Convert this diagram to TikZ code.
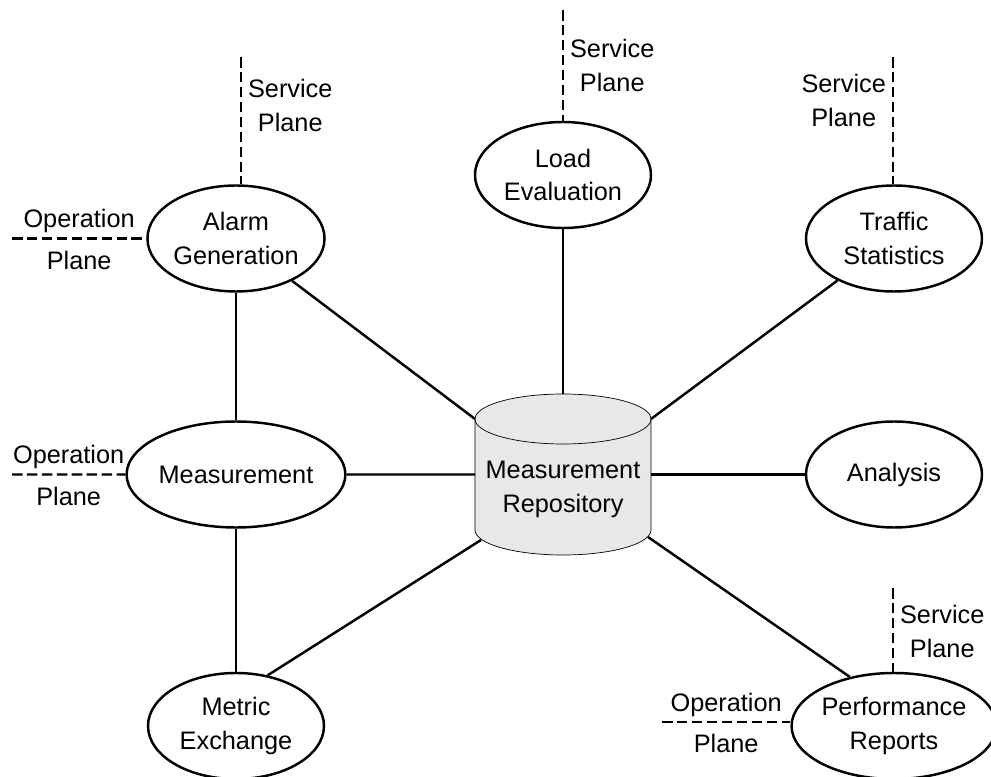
\documentclass[tikz,border=0pt]{standalone}
\usepackage{fontspec}
\setmainfont{Liberation Sans}
\usepackage{tikz}
\usetikzlibrary{shapes.geometric}
\usetikzlibrary{positioning}
\usetikzlibrary{backgrounds}
\tikzset{
    proc/.style={
           ellipse,
           draw=black,
           minimum width=3.52cm,
           minimum height=2.12cm,
           inner sep=0pt,
           align=center,
           },
    store/.style={
           rectangle,
           minimum width=3.52cm,
           minimum height=3.22cm,
           inner sep=0pt, outer sep=0pt,
           },
    plane/.style={
           dash pattern=on 6pt off 2.5pt,
           },
}
\definecolor{repofill}{HTML}{E8E8E8}

\begin{document}
\begin{tikzpicture}[line width=1.4pt, font=\fontsize{14.4}{19.3}\selectfont]
 \useasboundingbox (0,0) rectangle (19.82,15.52);

 % Operation plane side (left column)
 \node[proc] (AG) at (4.72,10.75) {Alarm\\Generation};

 \node[proc,
 below of=AG,
 node distance=4.72cm] (ME)
 {Measurement};

 \node[proc,
 below of=ME,
 node distance=5.03cm] (MX)
 {Metric\\Exchange};

 % STORE Measurement Repository
 % text sits a bit lower because of the lid
 \node[store] (MR) at (11.26,6.03)
 {\raisebox{-8pt}[\height][\depth]{%
 \begin{tabular}{c}
  Measurement\\
  Repository
 \end{tabular}}};

 \node[proc,
 above of=MR,
 node distance=5.99cm] (LE)
 {Load\\Evaluation};

 % right column
 \node[proc,
 right of=MR,
 node distance=6.62cm] (AN)
 {Analysis};

 \node[proc,
 above of=AN,
 node distance=4.72cm] (TS)
 {Traffic\\Statistics};

 \node[proc,
 below of=AN,
 node distance=5.03cm] (PR)
 {Performance\\Reports};

 % cylinder body behind the text
 \begin{scope}[on background layer]
  \draw[fill=repofill] ([yshift=-0.5cm]MR.north west) -- ([yshift=0.5cm]MR.south west)
   arc[start angle=180, end angle=360, x radius=1.76cm, y radius=0.5cm]
   -- ([yshift=-0.5cm]MR.north east)
   arc[start angle=0, end angle=180, x radius=1.76cm, y radius=0.5cm] -- cycle;
  \draw ([yshift=-0.5cm]MR.north west)
   arc[start angle=180, end angle=360, x radius=1.76cm, y radius=0.5cm];
 \end{scope}

 % links to the repository and between the left nodes
 \path (AG) edge ([yshift=-0.5cm]MR.north west)
       (LE) edge (MR.north)
       (TS) edge ([yshift=-0.5cm]MR.north east)
       (ME) edge (MR.west)
       (MR.east) edge (AN)
       (MX.58) edge ([shift={(0.12,0.3)}]MR.south west)
       (PR.132) edge ([shift={(-0.06,0.36)}]MR.south east)
       (AG) edge (ME)
       (ME) edge (MX)
 ;

 % service / operation planes
 \coordinate (AGs) at (4.82,14.38);
 \coordinate (AGo) at (0.24,10.75);
 \coordinate (LEs) at (11.26,15.32);
 \coordinate (TSs) at (17.86,14.38);
 \coordinate (MEo) at (0.24,6.03);
 \coordinate (PRs) at (17.86,3.76);
 \coordinate (PRo) at (13.24,1.08);

 \draw[plane] (AGs) -- node[pos=0.38, right, align=center] {Service\\Plane} (AGs |- AG.north);
 \draw[plane] (AGo) -- node[above=-1pt] {Operation} node[below=3pt] {Plane} (AG.west);
 \draw[plane] (LEs) -- node[pos=0.5, right, align=center] {Service\\Plane} (LE.north);
 \draw[plane] (TSs) -- node[pos=0.34, left, align=center] {Service\\Plane} (TSs |- TS.north);
 \draw[plane] (MEo) -- node[above=-1pt] {Operation} node[below=3pt] {Plane} (ME.west);
 \draw[plane] (PRs) -- node[pos=0.52, right, align=center] {Service\\Plane} (PRs |- PR.north);
 \draw[plane] (PRo) -- node[above=-1pt] {Operation} node[below=3pt] {Plane} (PRo -| PR.west);
\end{tikzpicture}
\end{document}
